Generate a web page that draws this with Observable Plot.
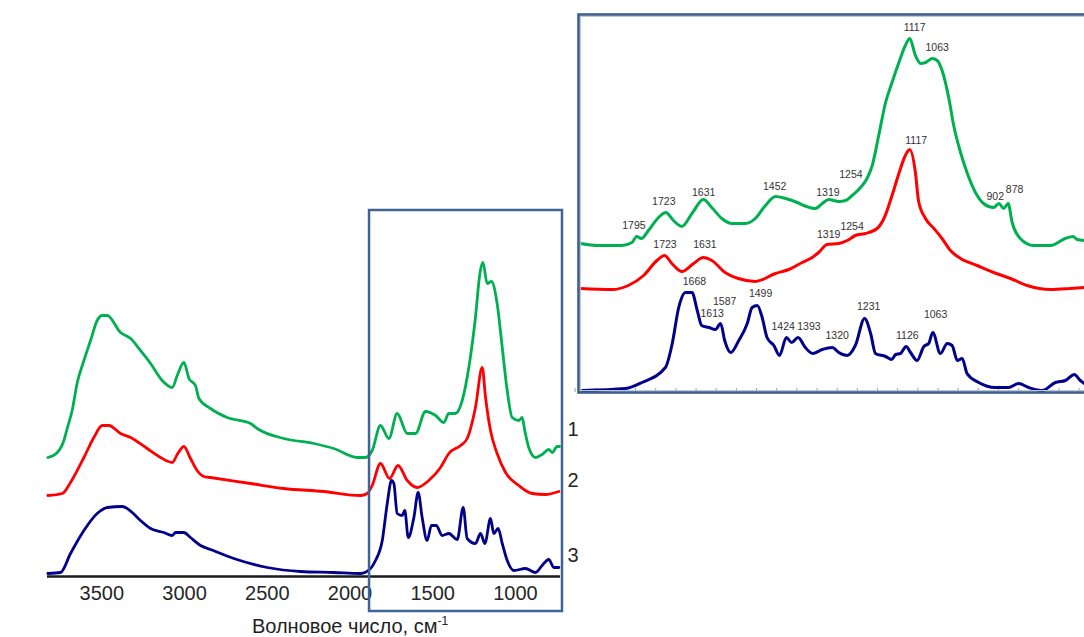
<!DOCTYPE html>
<html>
<head>
<meta charset="utf-8">
<script src="https://cdn.jsdelivr.net/npm/d3@7"></script>
<script src="https://cdn.jsdelivr.net/npm/@observablehq/plot@0.6"></script>
<style>
  html, body { margin: 0; padding: 0; background: #fff; overflow: hidden; }
  #wrap { position: relative; width: 1084px; height: 637px; overflow: hidden; font-family: "Liberation Sans", Arial, sans-serif; }
  #main { position: absolute; left: 0; top: 0; width: 1084px; height: 637px; }
  #inset { position: absolute; left: 575px; top: 11px; width: 530px; height: 384px; }
  #wrap svg { max-width: none !important; }
  #xlabel { position: absolute; left: 0; top: 616px; width: 700px; text-align: center; font-size: 20px; line-height: 20px; color: #222; }
  #xlabel sup { font-size: 12px; line-height: 0; vertical-align: 8px; }
</style>
</head>
<body>
<div id="wrap">
  <div id="main"></div>
  <div id="inset"></div>
  <div id="xlabel">Волновое число, см<sup>-1</sup></div>
</div>
<script>
// ---------- data: full-range spectra (main chart) ----------
const seriesNames = ["1", "2", "3"];
const seriesColors = ["#00b050", "#ff0000", "#00008b"];

const mainGreenWn = [3826,3769,3729,3709,3679,3648,3608,3568,3528,3497,3467,3387,3326,3266,3205,3135,3074,3044,3004,2973,2934,2913,2843,2742,2601,2561,2400,2219,2098,1957,1906,1866,1816,1765,1715,1654,1604,1544,1483,1433,1403,1363,1322,1282,1242,1215,1197,1171,1145,1111,1080,1050,1020,980,960,944,920,879,839,799,778,748,734];
const mainGreenAbs = [1.19,1.24,1.36,1.48,1.66,1.94,2.16,2.36,2.56,2.61,2.61,2.44,2.38,2.26,2.13,1.96,1.89,2.01,2.14,1.98,1.91,1.78,1.68,1.59,1.53,1.48,1.38,1.33,1.28,1.19,1.19,1.26,1.51,1.38,1.63,1.43,1.43,1.65,1.61,1.54,1.63,1.63,1.76,2.09,2.59,3.03,3.14,2.93,2.95,2.73,2.29,1.86,1.59,1.56,1.59,1.46,1.29,1.19,1.22,1.27,1.24,1.30,1.30];

const mainRedWn = [3826,3739,3689,3608,3548,3497,3457,3387,3326,3226,3145,3074,3044,3004,2964,2924,2883,2843,2601,2400,2158,1937,1896,1866,1816,1761,1710,1654,1594,1524,1453,1403,1332,1292,1242,1201,1181,1151,1111,1060,980,899,819,738];
const mainRedAbs = [0.81,0.83,0.94,1.19,1.39,1.51,1.51,1.43,1.39,1.28,1.19,1.14,1.22,1.30,1.18,1.06,1.00,0.99,0.93,0.88,0.85,0.81,0.83,0.91,1.13,0.98,1.11,0.96,0.89,0.96,1.09,1.23,1.31,1.38,1.69,2.09,1.79,1.46,1.23,1.04,0.91,0.83,0.82,0.85];

const mainBlueWn = [3826,3749,3689,3608,3528,3467,3377,3316,3266,3205,3125,3074,3054,3004,2964,2903,2843,2702,2500,2299,2098,1937,1876,1846,1805,1775,1749,1735,1715,1685,1669,1648,1614,1588,1564,1534,1508,1479,1443,1403,1352,1316,1292,1242,1211,1185,1151,1131,1105,1080,1050,1010,940,879,839,799,768,738];
const mainBlueAbs = [0.03,0.04,0.23,0.46,0.63,0.69,0.70,0.64,0.56,0.48,0.44,0.41,0.44,0.44,0.39,0.31,0.27,0.18,0.09,0.05,0.04,0.03,0.08,0.16,0.36,0.73,0.96,0.93,0.63,0.61,0.66,0.39,0.59,0.84,0.59,0.36,0.51,0.51,0.41,0.43,0.37,0.69,0.38,0.33,0.43,0.33,0.58,0.43,0.48,0.33,0.16,0.06,0.08,0.04,0.11,0.17,0.09,0.09];

const mainTicks = [3500, 3000, 2500, 2000, 1500, 1000];
const mainDomain = [3828, 728];
const seriesLabelAbs = [1.47, 0.96, 0.21];
const zoomRangeWn = [1882, 716];
const zoomRangeAbs = [-0.35, 3.66];

// ---------- data: fingerprint region (inset) ----------
const insetGreenWn = [1937,1892,1834,1809,1797,1786,1768,1743,1725,1706,1685,1660,1632,1611,1586,1561,1527,1503,1478,1453,1428,1399,1383,1354,1337,1321,1296,1279,1263,1242,1226,1213,1197,1180,1164,1147,1131,1120,1106,1093,1081,1064,1052,1036,1023,1011,994,978,957,937,912,899,887,876,866,846,813,771,734,715,705,687];
const insetGreenAbs = [1.49,1.47,1.47,1.50,1.56,1.54,1.62,1.75,1.80,1.72,1.66,1.79,1.93,1.85,1.74,1.69,1.69,1.74,1.87,1.96,1.94,1.90,1.87,1.84,1.89,1.93,1.91,1.92,1.97,2.05,2.14,2.27,2.57,2.90,3.10,3.30,3.47,3.54,3.37,3.29,3.30,3.34,3.32,3.17,2.94,2.67,2.40,2.20,2.00,1.89,1.85,1.89,1.84,1.89,1.70,1.54,1.47,1.47,1.54,1.56,1.53,1.52];

const insetRedWn = [1937,1859,1818,1780,1747,1728,1710,1685,1656,1632,1611,1578,1545,1503,1453,1420,1387,1362,1346,1325,1296,1275,1255,1230,1201,1184,1164,1147,1131,1120,1106,1098,1081,1060,1040,1019,994,953,912,870,829,771,722,687];
const insetRedAbs = [1.04,1.03,1.07,1.17,1.32,1.37,1.29,1.21,1.29,1.35,1.32,1.20,1.14,1.11,1.19,1.23,1.30,1.35,1.40,1.48,1.49,1.52,1.57,1.59,1.64,1.74,1.97,2.19,2.37,2.43,2.20,1.91,1.74,1.64,1.54,1.42,1.34,1.27,1.20,1.14,1.07,1.03,1.04,1.05];

const insetBlueWn = [1932,1825,1784,1726,1709,1693,1676,1660,1647,1636,1618,1602,1589,1579,1564,1544,1523,1511,1498,1486,1474,1457,1443,1426,1413,1397,1379,1361,1337,1312,1296,1275,1255,1232,1217,1205,1180,1165,1155,1143,1129,1118,1102,1085,1073,1063,1044,1027,1015,1002,990,978,949,908,875,850,825,792,759,734,712,697,687];
const insetBlueAbs = [0.02,0.04,0.10,0.25,0.49,0.85,1.00,1.00,0.82,0.67,0.65,0.63,0.69,0.52,0.40,0.52,0.69,0.85,0.87,0.75,0.55,0.47,0.37,0.55,0.50,0.55,0.45,0.39,0.43,0.45,0.40,0.37,0.47,0.74,0.59,0.39,0.36,0.33,0.38,0.39,0.46,0.40,0.32,0.46,0.49,0.60,0.39,0.49,0.47,0.32,0.34,0.19,0.10,0.05,0.05,0.09,0.05,0.02,0.10,0.12,0.18,0.12,0.09];

const insetDomain = [1941.5, 642];
const insetTicks = d3.range(700, 1951, 50);

// peak annotations (text, wavenumber position, absorbance position)
const greenPeakText = ["1795","1723","1631","1452","1319","1254","1117","1063","902","878"];
const greenPeakWn   = [1804,1730,1631,1455,1323,1266,1108,1052,908,860];
const greenPeakAbs  = [1.67,1.91,2.00,2.06,2.00,2.18,3.65,3.45,1.96,2.03];
const redPeakText = ["1723","1631","1319","1254","1117"];
const redPeakWn   = [1727,1628,1321,1263,1104];
const redPeakAbs  = [1.48,1.48,1.58,1.66,2.52];
const bluePeakText = ["1668","1613","1587","1499","1424","1393","1320","1231","1126","1063"];
const bluePeakWn   = [1654,1610,1579,1490,1434,1370,1300,1222,1126,1056];
const bluePeakAbs  = [1.11,0.79,0.91,0.99,0.66,0.66,0.57,0.86,0.57,0.78];

// ---------- build tables ----------
const zipRows = (name, wn, ab) => wn.map((w, i) => ({series: name, wn: w, abs: ab[i]}));
const mainRows = [
  ...zipRows("1", mainGreenWn, mainGreenAbs),
  ...zipRows("2", mainRedWn, mainRedAbs),
  ...zipRows("3", mainBlueWn, mainBlueAbs)
];
const insetRows = [
  ...zipRows("1", insetGreenWn, insetGreenAbs),
  ...zipRows("2", insetRedWn, insetRedAbs),
  ...zipRows("3", insetBlueWn, insetBlueAbs)
];
const peakRows = [
  ...greenPeakText.map((t, i) => ({t, wn: greenPeakWn[i], abs: greenPeakAbs[i]})),
  ...redPeakText.map((t, i) => ({t, wn: redPeakWn[i], abs: redPeakAbs[i]})),
  ...bluePeakText.map((t, i) => ({t, wn: bluePeakWn[i], abs: bluePeakAbs[i]}))
];
const seriesLabels = seriesNames.map((s, i) => ({s, abs: seriesLabelAbs[i]}));

const font = "Liberation Sans, Arial, sans-serif";
const color = {domain: seriesNames, range: seriesColors};

// ---------- main chart ----------
const main = Plot.plot({
  width: 1084,
  height: 637,
  marginLeft: 47,
  marginRight: 524,
  marginTop: 0,
  marginBottom: 61,
  style: {fontFamily: font, background: "transparent", overflow: "visible"},
  x: {domain: mainDomain, axis: null},
  y: {domain: [0, 5.76], axis: null},
  color,
  marks: [
    Plot.line(mainRows, {x: "wn", y: "abs", z: "series", stroke: "series", strokeWidth: 2.8, curve: "monotone-x"}),
    Plot.ruleY([0], {stroke: "#1a1a1a", strokeWidth: 2.6}),
    Plot.axisX({ticks: mainTicks, tickSize: 0, tickPadding: 9, tickFormat: "d", fontSize: 20, fill: "#262626", label: null}),
    Plot.text(seriesLabels, {y: "abs", text: "s", frameAnchor: "right", dx: 7, textAnchor: "start", fontSize: 20, fill: "#262626"}),
    Plot.rect([{x1: zoomRangeWn[0], x2: zoomRangeWn[1], y1: zoomRangeAbs[0], y2: zoomRangeAbs[1]}],
      {x1: "x1", x2: "x2", y1: "y1", y2: "y2", fill: "none", stroke: "#3e6495", strokeWidth: 2.5})
  ]
});
document.getElementById("main").appendChild(main);

// ---------- inset ----------
const inset = Plot.plot({
  width: 530,
  height: 384,
  marginLeft: 3,
  marginRight: 3,
  marginTop: 3,
  marginBottom: 3,
  style: {fontFamily: font, background: "white", overflow: "visible"},
  x: {domain: insetDomain, axis: null},
  y: {domain: [0, 3.78], axis: null},
  color,
  marks: [
    Plot.frame({fill: "white"}),
    Plot.axisX({ticks: insetTicks, tickSize: -4, tickFormat: () => "", stroke: "#9a9a9a", label: null}),
    Plot.line(insetRows, {x: "wn", y: "abs", z: "series", stroke: "series", strokeWidth: 3, curve: "monotone-x"}),
    Plot.text(peakRows, {x: "wn", y: "abs", text: "t", fontSize: 10.5, fill: "#333"}),
    Plot.frame({stroke: "#b9c8dd", strokeWidth: 1, inset: 2}),
    Plot.frame({stroke: "#3f5f8c", strokeWidth: 2.6})
  ]
});
document.getElementById("inset").appendChild(inset);
</script>
</body>
</html>
